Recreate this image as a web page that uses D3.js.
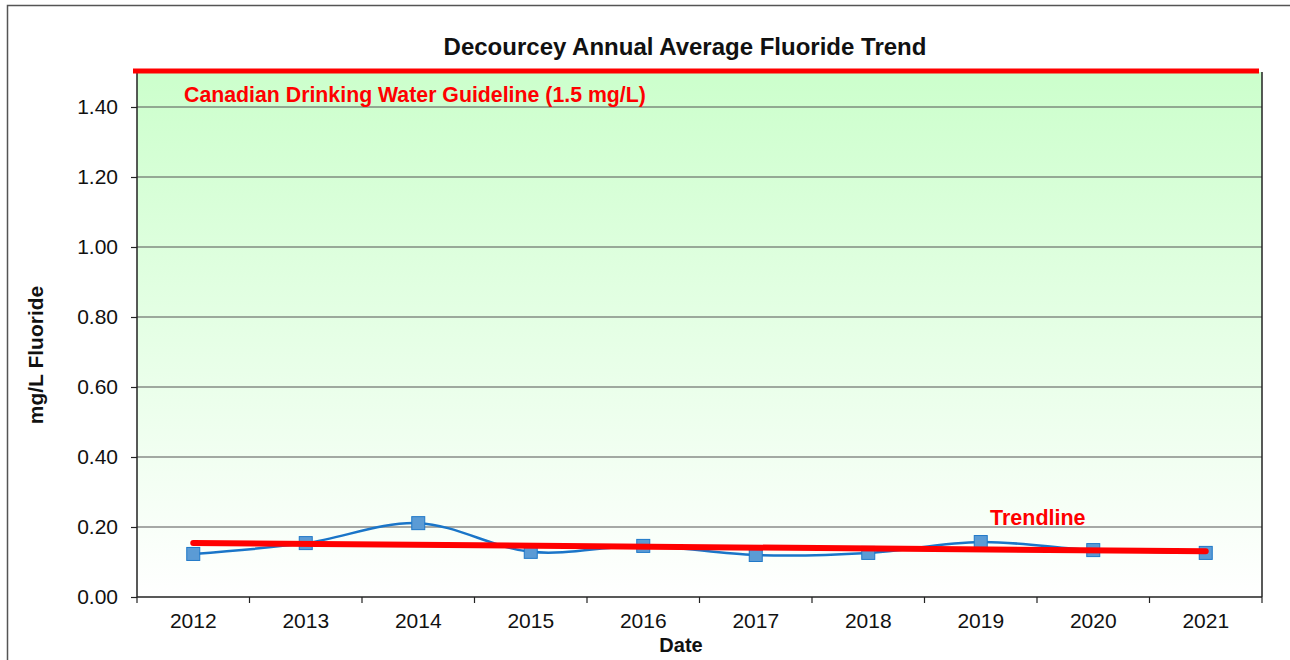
<html>
<head>
<style>
    body {
        margin: 0;
        background: #ffffff;
        font-family: Arial, "Liberation Sans", Helvetica, sans-serif;
    }
    .tick text { font-family: Arial, "Liberation Sans", sans-serif; }
</style>
</head>
<body>
<svg id="chart" width="1290" height="660"></svg>
<script src="https://d3js.org/d3.v7.min.js"></script>
<script>

    // chart data
    let years = ["2012", "2013", "2014", "2015", "2016", "2017", "2018", "2019", "2020", "2021"]
    let fluoride = [0.123, 0.154, 0.211, 0.129, 0.146, 0.120, 0.126, 0.157, 0.134, 0.126]
    let trendEnds = [0.154, 0.131]
    let guideline = 1.5
    let yTicks = [0, 0.2, 0.4, 0.6, 0.8, 1.0, 1.2, 1.4]

    let width = 1290
    let height = 660
    let margin = {left: 137, top: 72, right: 28, bottom: 63}

    let bodyWidth = width - margin.left - margin.right
    let bodyHeight = height - margin.top - margin.bottom

    let svg = d3.select("#chart")

    // outer chart frame
    svg.append("rect")
        .attr("x", 7.5).attr("y", 5.5)
        .attr("width", 1300).attr("height", 700)
        .attr("fill", "white")
        .attr("stroke", "#555")
        .attr("stroke-width", 1.5)

    let defs = svg.append("defs")
    let grad = defs.append("linearGradient")
        .attr("id", "bg").attr("x1", 0).attr("y1", 0).attr("x2", 0).attr("y2", 1)
    grad.append("stop").attr("offset", "0%").attr("stop-color", "#ccffcc")
    grad.append("stop").attr("offset", "100%").attr("stop-color", "#ffffff")

    let xScale = d3.scaleBand()
        .domain(years)
        .range([0, bodyWidth])
        .padding(0)

    let yScale = d3.scaleLinear()
        .domain([0, guideline])
        .range([bodyHeight, 0])

    let body = svg.append("g")
        .attr("transform", `translate(${margin.left},${margin.top})`)

    body.append("rect")
        .attr("width", bodyWidth)
        .attr("height", bodyHeight)
        .attr("fill", "url(#bg)")

    // gridlines
    body.selectAll(".grid")
        .data(yTicks.filter(d => d > 0))
        .enter().append("line")
        .attr("x1", 0).attr("x2", bodyWidth)
        .attr("y1", d => yScale(d)).attr("y2", d => yScale(d))
        .attr("stroke", "#555")
        .attr("stroke-width", 1.2)

    // plot border right
    body.append("line")
        .attr("x1", bodyWidth).attr("x2", bodyWidth)
        .attr("y1", 0).attr("y2", bodyHeight)
        .attr("stroke", "#222").attr("stroke-width", 1.5)

    // y axis
    let yAxis = d3.axisLeft(yScale)
        .tickValues(yTicks)
        .tickFormat(d3.format(".2f"))
        .tickSize(6)
        .tickPadding(13)
    let yg = body.append("g").call(yAxis)
    yg.select(".domain").attr("stroke", "#222").attr("stroke-width", 1.5)
        .attr("d", `M0,0V${bodyHeight}`)
    yg.selectAll(".tick line").attr("stroke", "#222").attr("stroke-width", 1.2)
    yg.selectAll(".tick text").attr("font-size", 21).attr("fill", "#111")

    // x axis: labels centred on categories, ticks at category edges
    let xAxis = d3.axisBottom(xScale).tickSize(0).tickPadding(16)
    let xg = body.append("g")
        .attr("transform", `translate(0,${bodyHeight})`)
        .call(xAxis)
    xg.select(".domain").attr("stroke", "#222").attr("stroke-width", 1.5)
        .attr("d", `M0,0H${bodyWidth}`)
    xg.selectAll(".tick text").attr("font-size", 21).attr("fill", "#111")
    xg.selectAll(".edge")
        .data(years.concat(["end"]))
        .enter().append("line")
        .attr("x1", (d, i) => i * xScale.step())
        .attr("x2", (d, i) => i * xScale.step())
        .attr("y1", 0).attr("y2", 6)
        .attr("stroke", "#222").attr("stroke-width", 1.2)

    let xc = d => xScale(d) + xScale.bandwidth() / 2

    // guideline
    body.append("line")
        .attr("x1", -4).attr("x2", bodyWidth - 3)
        .attr("y1", yScale(guideline) - 1).attr("y2", yScale(guideline) - 1)
        .attr("stroke", "#ff0000")
        .attr("stroke-width", 5)

    // data line (smoothed)
    let line = d3.line()
        .x((d, i) => xc(years[i]))
        .y(d => yScale(d))
        .curve(d3.curveCardinal.tension(0))

    body.append("path")
        .datum(fluoride)
        .attr("d", line)
        .attr("fill", "none")
        .attr("stroke", "#1a75c8")
        .attr("stroke-width", 2.5)

    body.selectAll(".pt")
        .data(fluoride)
        .enter().append("rect")
        .attr("x", (d, i) => xc(years[i]) - 6.5)
        .attr("y", d => yScale(d) - 6.5)
        .attr("width", 13).attr("height", 13)
        .attr("fill", "#5b9bd5")
        .attr("stroke", "#1f78c8")
        .attr("stroke-width", 1)

    // trendline
    body.append("line")
        .attr("x1", xc(years[0])).attr("x2", xc(years[years.length - 1]))
        .attr("y1", yScale(trendEnds[0])).attr("y2", yScale(trendEnds[1]))
        .attr("stroke", "#ff0000")
        .attr("stroke-width", 6)
        .attr("stroke-linecap", "round")

    // texts
    svg.append("text")
        .attr("x", 685).attr("y", 55)
        .attr("text-anchor", "middle")
        .attr("font-size", 24).attr("font-weight", "bold")
        .attr("fill", "#111")
        .text("Decourcey Annual Average Fluoride Trend")

    svg.append("text")
        .attr("x", 184).attr("y", 102)
        .attr("font-size", 21.3).attr("font-weight", "bold")
        .attr("fill", "#ff0000")
        .text("Canadian Drinking Water Guideline (1.5 mg/L)")

    svg.append("text")
        .attr("x", 990).attr("y", 525)
        .attr("font-size", 21.5).attr("font-weight", "bold")
        .attr("fill", "#ff0000")
        .text("Trendline")

    svg.append("text")
        .attr("x", 681).attr("y", 652)
        .attr("text-anchor", "middle")
        .attr("font-size", 20).attr("font-weight", "bold")
        .attr("fill", "#111")
        .text("Date")

    svg.append("text")
        .attr("transform", "translate(43,355) rotate(-90)")
        .attr("text-anchor", "middle")
        .attr("font-size", 21).attr("font-weight", "bold")
        .attr("fill", "#111")
        .text("mg/L Fluoride")

</script>
</body>
</html>
